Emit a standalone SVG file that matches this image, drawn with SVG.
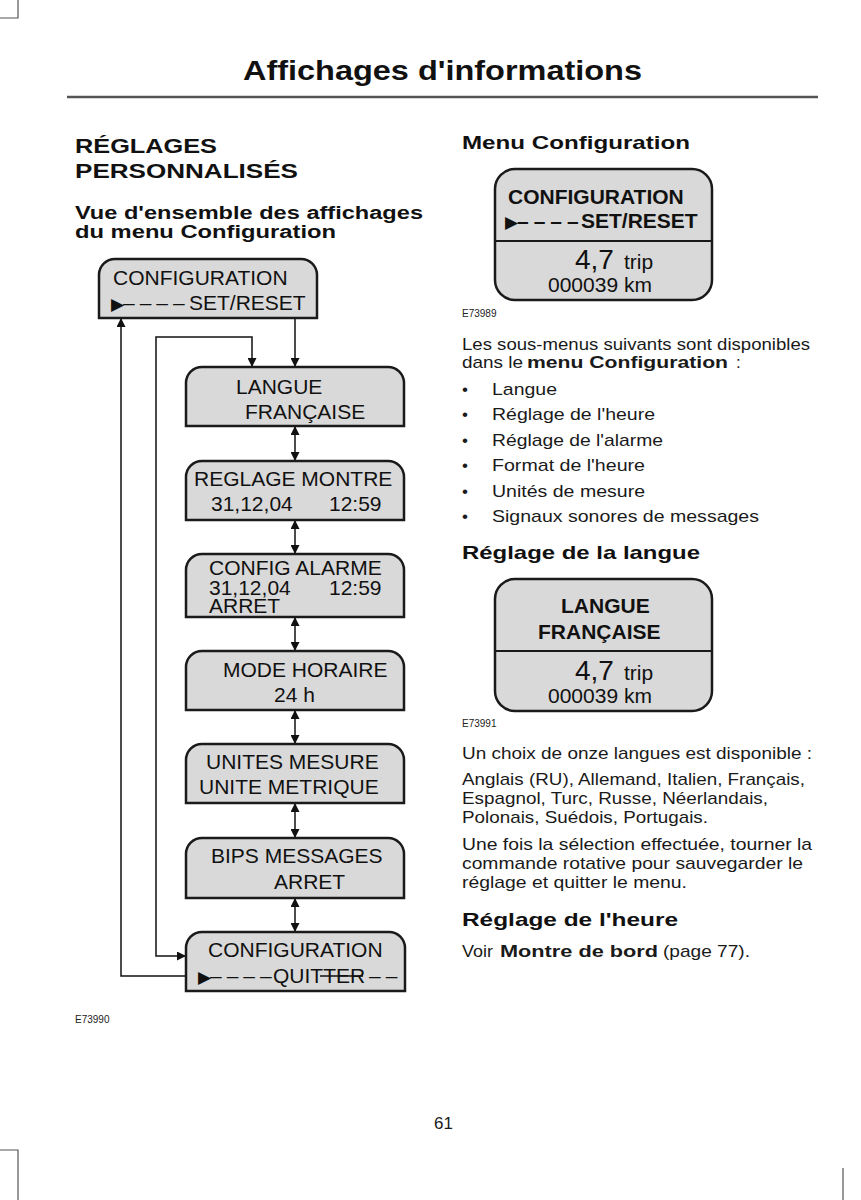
<svg xmlns="http://www.w3.org/2000/svg" width="861" height="1200" viewBox="0 0 861 1200">
<style>
.bg{fill:#ffffff}
.node{fill:#d9d9d9;stroke:#1a1a1a;stroke-width:2.5}
.scr{fill:#d9d9d9;stroke:#1a1a1a;stroke-width:2.5}
.nt{font-family:"Liberation Sans",Arial,sans-serif;font-size:21px;fill:#111}
.tri{font-family:"DejaVu Sans",sans-serif;font-size:17px;fill:#111}
.dash{letter-spacing:5px}
.b{font-weight:bold}
.con{fill:none;stroke:#111;stroke-width:1.5}
.body{font-family:"Liberation Sans",Arial,sans-serif;font-size:17px;fill:#1a1a1a}
.hd{font-family:"Liberation Sans",Arial,sans-serif;font-weight:bold;fill:#111}
.code{font-family:"Liberation Sans",Arial,sans-serif;font-size:10px;fill:#222}
.crop{stroke:#555;stroke-width:1.2;fill:none}
</style>
<defs>
<marker id="ah" viewBox="0 0 10 10" refX="10" refY="5" markerWidth="9" markerHeight="9" markerUnits="userSpaceOnUse" orient="auto-start-reverse">
<path d="M0,0 L10,5 L0,10 z" fill="#111"/>
</marker>
</defs>
<rect class="bg" x="0" y="0" width="861" height="1200"/>

<g id="cropmarks">
<path class="crop" d="M18,0 V18 H0"/>
<path class="crop" d="M0,1150 H18 V1200"/>
<path class="crop" d="M843,1168 V1200"/>
</g>

<g id="header">
<text class="hd" x="243" y="80" font-size="28" textLength="399" lengthAdjust="spacingAndGlyphs">Affichages d'informations</text>
<line x1="67" y1="97" x2="818" y2="97" stroke="#555" stroke-width="2.5"/>
</g>

<g id="left-headings">
<text class="hd" x="75" y="153" font-size="21" textLength="142" lengthAdjust="spacingAndGlyphs">RÉGLAGES</text>
<text class="hd" x="75" y="178" font-size="21" textLength="223" lengthAdjust="spacingAndGlyphs">PERSONNALISÉS</text>
<text class="hd" x="75" y="219" font-size="18" textLength="348" lengthAdjust="spacingAndGlyphs">Vue d'ensemble des affichages</text>
<text class="hd" x="75" y="238" font-size="18" textLength="261" lengthAdjust="spacingAndGlyphs">du menu Configuration</text>
</g>

<g id="connectors">
<path class="con" d="M295,318 V367" marker-end="url(#ah)"/>
<path class="con" d="M295,426 V461" marker-start="url(#ah)" marker-end="url(#ah)"/>
<path class="con" d="M295,520 V554" marker-start="url(#ah)" marker-end="url(#ah)"/>
<path class="con" d="M295,617 V651" marker-start="url(#ah)" marker-end="url(#ah)"/>
<path class="con" d="M295,710 V744" marker-start="url(#ah)" marker-end="url(#ah)"/>
<path class="con" d="M295,803 V838" marker-start="url(#ah)" marker-end="url(#ah)"/>
<path class="con" d="M295,898 V932" marker-start="url(#ah)" marker-end="url(#ah)"/>
<path class="con" d="M186,956 H156 V337 H252 V367" marker-start="url(#ah)" marker-end="url(#ah)"/>
<path class="con" d="M186,976 H121 V318" marker-end="url(#ah)"/>
</g>

<g id="n-config">
<path class="node" d="M99,318 V275 A16,16 0 0 1 115,259 H301 A16,16 0 0 1 317,275 V318 Z"/>
<text class="nt" x="113" y="285">CONFIGURATION</text>
<text class="nt" y="310"><tspan class="tri" x="111">▶</tspan><tspan class="dash" x="123">––––</tspan><tspan x="189">SET/RESET</tspan></text>
</g>

<g id="n-langue">
<path class="node" d="M186,426 V383 A16,16 0 0 1 202,367 H388 A16,16 0 0 1 404,383 V426 Z"/>
<text class="nt" x="236" y="394">LANGUE</text>
<text class="nt" x="245" y="419">FRANÇAISE</text>
</g>

<g id="n-reglage">
<path class="node" d="M186,520 V477 A16,16 0 0 1 202,461 H388 A16,16 0 0 1 404,477 V520 Z"/>
<text class="nt" x="194" y="486">REGLAGE MONTRE</text>
<text class="nt" y="511"><tspan x="211">31,12,04</tspan><tspan x="329">12:59</tspan></text>
</g>

<g id="n-alarme">
<path class="node" d="M186,617 V570 A16,16 0 0 1 202,554 H388 A16,16 0 0 1 404,570 V617 Z"/>
<text class="nt" x="209" y="575">CONFIG ALARME</text>
<text class="nt" y="595"><tspan x="209">31,12,04</tspan><tspan x="329">12:59</tspan></text>
<text class="nt" x="209" y="613">ARRET</text>
</g>

<g id="n-mode">
<path class="node" d="M186,710 V667 A16,16 0 0 1 202,651 H388 A16,16 0 0 1 404,667 V710 Z"/>
<text class="nt" x="223" y="677">MODE HORAIRE</text>
<text class="nt" x="274" y="702">24 h</text>
</g>

<g id="n-unites">
<path class="node" d="M186,803 V760 A16,16 0 0 1 202,744 H388 A16,16 0 0 1 404,760 V803 Z"/>
<text class="nt" x="206" y="769">UNITES MESURE</text>
<text class="nt" x="199" y="794">UNITE METRIQUE</text>
</g>

<g id="n-bips">
<path class="node" d="M186,898 V854 A16,16 0 0 1 202,838 H388 A16,16 0 0 1 404,854 V898 Z"/>
<text class="nt" x="211" y="863">BIPS MESSAGES</text>
<text class="nt" x="274" y="889">ARRET</text>
</g>

<g id="n-quitter">
<path class="node" d="M186,991 V948 A16,16 0 0 1 202,932 H389 A16,16 0 0 1 405,948 V991 Z"/>
<text class="nt" x="208" y="957">CONFIGURATION</text>
<text class="nt" y="983"><tspan class="tri" x="198">▶</tspan><tspan class="dash" x="210">––––</tspan><tspan x="273">QUITTER</tspan><tspan class="dash" x="369">––</tspan></text>
<line x1="320" y1="976" x2="363" y2="976" stroke="#111" stroke-width="1.6"/>
</g>

<text class="code" x="75" y="1023">E73990</text>

<g id="right-column">
<text class="hd" x="462" y="149" font-size="19" textLength="228" lengthAdjust="spacingAndGlyphs">Menu Configuration</text>

<g id="screen-config">
<rect class="scr" x="495" y="169" width="217" height="131" rx="20"/>
<line x1="495" y1="241" x2="712" y2="241" stroke="#1a1a1a" stroke-width="2"/>
<text class="nt b" x="508" y="204">CONFIGURATION</text>
<text class="nt b" y="228"><tspan class="tri" x="505">▶</tspan><tspan class="dash" x="517">––––</tspan><tspan x="581">SET/RESET</tspan></text>
<text class="nt" y="269"><tspan x="575" font-size="28">4,7</tspan><tspan x="624">trip</tspan></text>
<text class="nt" x="548" y="292" font-size="20">000039 km</text>
</g>
<text class="code" x="462" y="317">E73989</text>

<text class="body" x="462" y="350" textLength="348" lengthAdjust="spacingAndGlyphs">Les sous-menus suivants sont disponibles</text>
<text class="body" y="368"><tspan x="462" textLength="61" lengthAdjust="spacingAndGlyphs">dans le</tspan><tspan x="527" font-weight="bold" textLength="201" lengthAdjust="spacingAndGlyphs">menu Configuration</tspan><tspan x="736">:</tspan></text>

<g class="body">
<text x="462" y="395">•</text><text x="492" y="395" textLength="65" lengthAdjust="spacingAndGlyphs">Langue</text>
<text x="462" y="420">•</text><text x="492" y="420" textLength="163" lengthAdjust="spacingAndGlyphs">Réglage de l'heure</text>
<text x="462" y="446">•</text><text x="492" y="446" textLength="171" lengthAdjust="spacingAndGlyphs">Réglage de l'alarme</text>
<text x="462" y="471">•</text><text x="492" y="471" textLength="153" lengthAdjust="spacingAndGlyphs">Format de l'heure</text>
<text x="462" y="497">•</text><text x="492" y="497" textLength="153" lengthAdjust="spacingAndGlyphs">Unités de mesure</text>
<text x="462" y="522">•</text><text x="492" y="522" textLength="267" lengthAdjust="spacingAndGlyphs">Signaux sonores de messages</text>
</g>

<text class="hd" x="462" y="559" font-size="19" textLength="238" lengthAdjust="spacingAndGlyphs">Réglage de la langue</text>

<g id="screen-langue">
<rect class="scr" x="495" y="579" width="217" height="132" rx="20"/>
<line x1="495" y1="651" x2="712" y2="651" stroke="#1a1a1a" stroke-width="2"/>
<text class="nt b" x="561" y="613">LANGUE</text>
<text class="nt b" x="538" y="639">FRANÇAISE</text>
<text class="nt" y="680"><tspan x="575" font-size="28">4,7</tspan><tspan x="624">trip</tspan></text>
<text class="nt" x="548" y="703" font-size="20">000039 km</text>
</g>
<text class="code" x="462" y="727">E73991</text>

<text class="body" x="462" y="759" textLength="350" lengthAdjust="spacingAndGlyphs">Un choix de onze langues est disponible :</text>
<text class="body" x="462" y="785" textLength="343" lengthAdjust="spacingAndGlyphs">Anglais (RU), Allemand, Italien, Français,</text>
<text class="body" x="462" y="804" textLength="306" lengthAdjust="spacingAndGlyphs">Espagnol, Turc, Russe, Néerlandais,</text>
<text class="body" x="462" y="823" textLength="246" lengthAdjust="spacingAndGlyphs">Polonais, Suédois, Portugais.</text>
<text class="body" x="462" y="850" textLength="350" lengthAdjust="spacingAndGlyphs">Une fois la sélection effectuée, tourner la</text>
<text class="body" x="462" y="869" textLength="341" lengthAdjust="spacingAndGlyphs">commande rotative pour sauvegarder le</text>
<text class="body" x="462" y="888" textLength="225" lengthAdjust="spacingAndGlyphs">réglage et quitter le menu.</text>

<text class="hd" x="462" y="926" font-size="19" textLength="216" lengthAdjust="spacingAndGlyphs">Réglage de l'heure</text>
<text class="body" y="957"><tspan x="462" textLength="31" lengthAdjust="spacingAndGlyphs">Voir</tspan><tspan x="500" font-weight="bold" textLength="158" lengthAdjust="spacingAndGlyphs">Montre de bord</tspan><tspan x="663" textLength="87" lengthAdjust="spacingAndGlyphs">(page 77).</tspan></text>
</g>

<text class="body" x="434" y="1129">61</text>
</svg>
